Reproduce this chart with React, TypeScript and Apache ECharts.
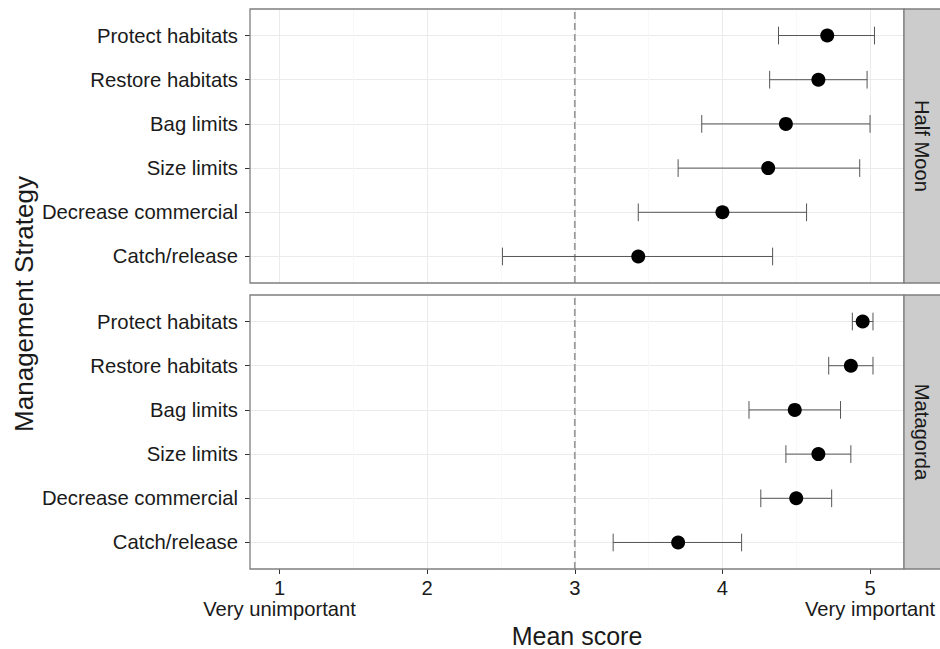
import React, { useEffect, useRef } from "react";
import * as echarts from "echarts";

const strategies = [
  "Protect habitats",
  "Restore habitats",
  "Bag limits",
  "Size limits",
  "Decrease commercial",
  "Catch/release",
];
const sites = ["Half Moon", "Matagorda"];
const halfMoonMean = [4.71, 4.65, 4.43, 4.31, 4.0, 3.43];
const halfMoonLow = [4.38, 4.32, 3.86, 3.7, 3.43, 2.51];
const halfMoonHigh = [5.03, 4.98, 5.0, 4.93, 4.57, 4.34];
const matagordaMean = [4.95, 4.87, 4.49, 4.65, 4.5, 3.7];
const matagordaLow = [4.88, 4.72, 4.18, 4.43, 4.26, 3.26];
const matagordaHigh = [5.02, 5.02, 4.8, 4.87, 4.74, 4.13];
const xTickValues = [1, 2, 3, 4, 5];
const xTickLabels = ["1\nVery unimportant", "2", "3", "4", "5\nVery important"];
const neutralScore = 3;
const xMin = 0.8;
const xMax = 5.23;

const FONT = "'Liberation Sans', Arial, Helvetica, sans-serif";
const TEXT = "#1a1a1a";
const BORDER = "#7f7f7f";
const GRIDC = "#ebebeb";

const PANEL_LEFT = 250;
const PANEL_W = 654;
const PANEL_H = 274;
const PANEL_TOPS = [9, 295];
const INSET = (0.6 / 6.2) * PANEL_H;

export default function App() {
  const ref = useRef<HTMLDivElement>(null);
  useEffect(() => {
    if (!ref.current) return;
    const chart = echarts.init(ref.current, undefined, { renderer: "svg" });
    const means = [halfMoonMean, matagordaMean];
    const lows = [halfMoonLow, matagordaLow];
    const highs = [halfMoonHigh, matagordaHigh];

    const grids: any[] = [];
    const xAxes: any[] = [];
    const yAxes: any[] = [];
    const series: any[] = [];
    const graphics: any[] = [];

    PANEL_TOPS.forEach((top, p) => {
      const isBottom = p === PANEL_TOPS.length - 1;
      const frameIdx = p * 2;
      const dataIdx = p * 2 + 1;
      grids.push({ left: PANEL_LEFT, top, width: PANEL_W, height: PANEL_H, show: true, backgroundColor: "#fff", borderWidth: 0 });
      grids.push({ left: PANEL_LEFT, top: top + INSET, width: PANEL_W, height: PANEL_H - 2 * INSET });
      xAxes.push({
        type: "value",
        gridIndex: frameIdx,
        min: xMin,
        max: xMax,
        axisLine: { show: false },
        axisTick: isBottom
          ? { show: true, length: 5, lineStyle: { color: "#333", width: 1 }, customValues: xTickValues }
          : { show: false },
        axisLabel: isBottom
          ? {
              show: true,
              customValues: xTickValues,
              formatter: (v: number) => {
                const i = xTickValues.indexOf(v);
                return i >= 0 ? xTickLabels[i] : "";
              },
              fontSize: 20.2,
              lineHeight: 21,
              color: TEXT,
              fontFamily: FONT,
              margin: 8,
            }
          : { show: false },
        splitLine: { show: true, showMinLine: false, showMaxLine: false, lineStyle: { color: GRIDC, width: 1 } },
        minorTick: { show: false, splitNumber: 2 },
        minorSplitLine: { show: true, lineStyle: { color: "#f8f8f8", width: 1 } },
      });
      xAxes.push({ type: "value", gridIndex: dataIdx, min: xMin, max: xMax, show: false });
      yAxes.push({ type: "value", gridIndex: frameIdx, min: 0, max: 1, show: false });
      yAxes.push({
        type: "category",
        gridIndex: dataIdx,
        data: strategies,
        inverse: true,
        boundaryGap: false,
        axisLine: { show: false },
        axisTick: { show: true, length: 5, interval: 0, lineStyle: { color: "#333", width: 1 } },
        axisLabel: { interval: 0, fontSize: 20.3, color: TEXT, fontFamily: FONT, margin: 12 },
        splitLine: { show: true, interval: 0, lineStyle: { color: GRIDC, width: 1 } },
      });
      series.push({
        type: "line",
        xAxisIndex: frameIdx,
        yAxisIndex: frameIdx,
        data: [
          [neutralScore, 0],
          [neutralScore, 1],
        ],
        symbol: "none",
        silent: true,
        lineStyle: { color: "#999", width: 1.7, type: [7, 4] },
        z: 3,
      });
      series.push({
        type: "custom",
        xAxisIndex: dataIdx,
        yAxisIndex: dataIdx,
        data: strategies.map((_, i) => [lows[p][i], highs[p][i], i]),
        encode: { x: [0, 1], y: 2 },
        renderItem: (params: any, api: any) => {
          const lo = api.coord([api.value(0), api.value(2)]);
          const hi = api.coord([api.value(1), api.value(2)]);
          const h = api.size([0, 1])[1] * 0.2;
          const st = { stroke: "#555", lineWidth: 1, fill: "none" };
          return {
            type: "group",
            children: [
              { type: "line", shape: { x1: lo[0], y1: lo[1], x2: hi[0], y2: hi[1] }, style: st },
              { type: "line", shape: { x1: lo[0], y1: lo[1] - h, x2: lo[0], y2: lo[1] + h }, style: st },
              { type: "line", shape: { x1: hi[0], y1: hi[1] - h, x2: hi[0], y2: hi[1] + h }, style: st },
            ],
          };
        },
        z: 4,
        silent: true,
      });
      series.push({
        type: "scatter",
        xAxisIndex: dataIdx,
        yAxisIndex: dataIdx,
        data: strategies.map((_, i) => [means[p][i], i]),
        symbol: "circle",
        symbolSize: 14,
        itemStyle: { color: "#000", opacity: 1 },
        z: 5,
        silent: true,
      });
      graphics.push({
        type: "rect",
        shape: { x: PANEL_LEFT, y: top, width: PANEL_W, height: PANEL_H },
        style: { fill: "none", stroke: BORDER, lineWidth: 1.3 },
        z: 100,
        silent: true,
      });
      graphics.push({
        type: "rect",
        shape: { x: PANEL_LEFT + PANEL_W, y: top, width: 40, height: PANEL_H },
        style: { fill: "#cccccc", stroke: BORDER, lineWidth: 1.3 },
        z: 100,
        silent: true,
      });
      graphics.push({
        type: "text",
        x: PANEL_LEFT + PANEL_W + 18,
        y: top + PANEL_H / 2,
        rotation: -Math.PI / 2,
        style: { text: sites[p], fontSize: 20.2, fontFamily: FONT, fill: TEXT, align: "center", verticalAlign: "middle" },
        z: 101,
        silent: true,
      });
    });

    graphics.push({
      type: "text",
      x: PANEL_LEFT + PANEL_W / 2,
      y: 636,
      style: { text: "Mean score", fontSize: 25, fontFamily: FONT, fill: TEXT, align: "center", verticalAlign: "middle" },
      silent: true,
    });
    graphics.push({
      type: "text",
      x: 23.5,
      y: 304,
      rotation: Math.PI / 2,
      style: { text: "Management Strategy", fontSize: 26, fontFamily: FONT, fill: TEXT, align: "center", verticalAlign: "middle" },
      silent: true,
    });

    chart.setOption({
      animation: false,
      backgroundColor: "#fff",
      textStyle: { fontFamily: FONT },
      grid: grids,
      xAxis: xAxes,
      yAxis: yAxes,
      series,
      graphic: graphics,
    });
    return () => chart.dispose();
  }, []);
  return (
    <div
      ref={ref}
      style={{ position: "absolute", left: 0, top: 0, width: 940, height: 649 }}
    />
  );
}
